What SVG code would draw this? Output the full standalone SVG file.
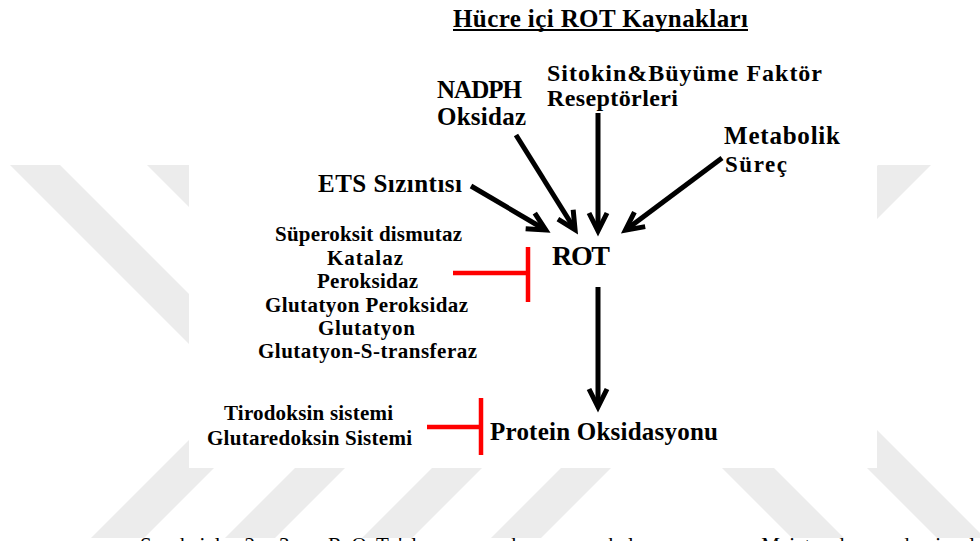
<svg xmlns="http://www.w3.org/2000/svg" width="980" height="541" viewBox="0 0 980 541">
<defs>
<style>
.t{font-family:"Liberation Serif","Times New Roman",serif;font-weight:bold;fill:#000}
.big{font-size:25px}
.sm{font-size:21px}
.wm{fill:#ececec}
.arr{stroke:#000;stroke-width:5;fill:none;marker-end:url(#ah)}
.inh{stroke:#ff0000;stroke-width:4.5;fill:none}
</style>
<marker id="ah" viewBox="0 0 24 24" refX="18" refY="12" markerWidth="24" markerHeight="24" markerUnits="userSpaceOnUse" orient="auto" overflow="visible">
<path d="M2,3 L20,12 L2,21" stroke="#000" stroke-width="5" fill="none" stroke-linejoin="miter"/>
</marker>
</defs>
<rect width="980" height="541" fill="#fff"/>
<g id="watermark">
<polygon class="wm" points="10,165 60,165 300,405 250,405"/>
<polygon class="wm" points="147,165 197,165 300,268 250,268"/>
<polygon class="wm" points="91,538 144,538 294,388 241,388"/>
<polygon class="wm" points="225,538 275,538 345,468 295,468"/>
<polygon class="wm" points="362,538 412,538 482,468 432,468"/>
<polygon class="wm" points="491,538 541,538 611,468 561,468"/>
<polygon class="wm" points="792,538 844,538 724,418 672,418"/>
<polygon class="wm" points="937,538 985,538 845,398 797,398"/>
<polygon class="wm" points="878,165 931,165 800,296 747,296"/>
</g>
<rect x="189" y="0" width="688" height="468" fill="#fff"/>
<g id="title">
<text class="t big" x="453" y="27" textLength="295" lengthAdjust="spacing">Hücre içi ROT Kaynakları</text>
<rect x="453" y="29" width="295" height="2" fill="#000"/>
</g>
<g id="sitokin">
<text class="t" style="font-size:24px" x="547" y="81" textLength="275" lengthAdjust="spacing">Sitokin&amp;Büyüme Faktör</text>
<text class="t" style="font-size:24px" x="547" y="106" textLength="131" lengthAdjust="spacing">Reseptörleri</text>
</g>
<g id="nadph">
<text class="t big" x="437" y="98" textLength="85" lengthAdjust="spacing">NADPH</text>
<text class="t big" x="437" y="125" textLength="89" lengthAdjust="spacing">Oksidaz</text>
</g>
<g id="metabolik">
<text class="t big" x="724" y="144" textLength="116" lengthAdjust="spacing">Metabolik</text>
<text class="t" style="font-size:23px" x="725" y="172" textLength="62" lengthAdjust="spacing">Süreç</text>
</g>
<g id="ets">
<text class="t big" x="318" y="192" textLength="144" lengthAdjust="spacing">ETS Sızıntısı</text>
</g>
<g id="rot">
<text class="t" style="font-size:28px" x="552" y="265" textLength="58" lengthAdjust="spacing">ROT</text>
</g>
<g id="antioksidanlar">
<text class="t sm" x="275" y="241" textLength="187" lengthAdjust="spacing">Süperoksit dismutaz</text>
<text class="t sm" x="327" y="265" textLength="76" lengthAdjust="spacing">Katalaz</text>
<text class="t sm" x="317" y="288" textLength="101" lengthAdjust="spacing">Peroksidaz</text>
<text class="t sm" x="265" y="312" textLength="203" lengthAdjust="spacing">Glutatyon Peroksidaz</text>
<text class="t sm" x="318" y="335" textLength="97" lengthAdjust="spacing">Glutatyon</text>
<text class="t sm" x="258" y="358" textLength="219" lengthAdjust="spacing">Glutatyon-S-transferaz</text>
</g>
<g id="redoks">
<text class="t sm" x="224" y="420" textLength="169" lengthAdjust="spacing">Tirodoksin sistemi</text>
<text class="t sm" x="207" y="445" textLength="205" lengthAdjust="spacing">Glutaredoksin Sistemi</text>
</g>
<g id="protein">
<text class="t big" x="490" y="440" textLength="228" lengthAdjust="spacing">Protein Oksidasyonu</text>
</g>
<g id="connectors">
<line class="arr" x1="471" y1="186" x2="544" y2="229"/>
<line class="arr" x1="516" y1="135" x2="574" y2="228"/>
<line class="arr" x1="598" y1="113" x2="598" y2="229"/>
<line class="arr" x1="722" y1="158" x2="627" y2="229"/>
<line class="arr" x1="598" y1="287" x2="598" y2="405"/>
<path class="inh" d="M453,273 H528 M528,247 V302"/>
<path class="inh" d="M427,427 H481 M481,398 V455"/>
</g>
<text style="font-family:'Liberation Serif','Times New Roman',serif;font-size:21px;fill:#000" x="140" y="552" textLength="835" lengthAdjust="spacing">Şekil 2.3. ROT'ların kaynakları ve Mitokondrial</text>
</svg>
